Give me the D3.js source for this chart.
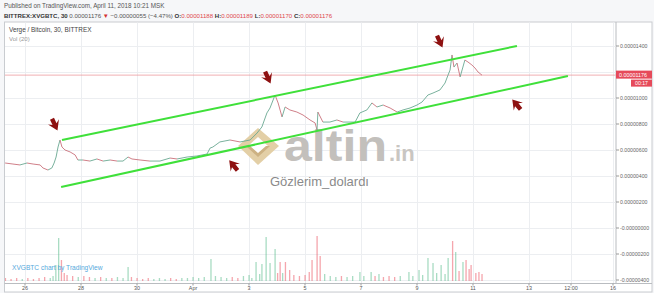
<!DOCTYPE html>
<html lang="en">
  <head>
    <meta charset="UTF-8" />
    <title>XVGBTC 30</title>
    <script src="https://d3js.org/d3.v7.min.js"></script>
    <style>
      html, body { margin: 0; padding: 0; background: #f6f7f9; }
      svg { display: block; font-family: "Liberation Sans", Arial, sans-serif; }
    </style>
  </head>
  <body>
    <div class="chart"></div>
    <script>
      // day numbers: 26 = March 26, 32 = April 1 ...  price in units of 1e-6 BTC
      const priceDays = [25.29, 25.57, 25.82, 26.07, 26.29, 26.54, 26.64, 26.82, 26.96, 27.04, 27.11, 27.18, 27.25, 27.32, 27.43, 27.61, 27.79, 27.89, 28.07, 28.32, 28.57, 28.79, 29.04, 29.29, 29.5, 29.68, 29.82, 30.11, 30.46, 30.82, 31.18, 31.43, 31.79, 32.14, 32.5, 32.61, 32.71, 32.96, 33.32, 33.68, 34.04, 34.29, 34.46, 34.64, 34.75, 34.93, 35.04, 35.18, 35.29, 35.46, 35.71, 35.93, 36.18, 36.36, 36.43, 36.46, 36.64, 36.89, 37.14, 37.36, 37.61, 37.79, 37.96, 38.21, 38.39, 38.57, 38.79, 39.04, 39.29, 39.5, 39.75, 40.0, 40.18, 40.39, 40.57, 40.82, 41.0, 41.11, 41.18, 41.25, 41.32, 41.43, 41.54, 41.64, 41.71, 41.82, 41.96, 42.07, 42.18, 42.32];
      const prices = [5.0, 4.92, 4.85, 5.0, 4.92, 4.85, 4.62, 4.46, 4.62, 5.0, 5.46, 6.23, 6.77, 6.23, 6.0, 5.85, 5.62, 5.23, 5.23, 5.15, 5.31, 5.15, 5.23, 5.15, 5.15, 5.46, 5.31, 5.23, 5.15, 5.15, 5.38, 5.31, 5.46, 5.54, 5.69, 6.15, 6.23, 6.62, 6.77, 6.62, 6.77, 7.31, 7.77, 8.85, 9.23, 10.23, 9.62, 8.54, 9.31, 9.08, 8.92, 8.69, 8.31, 8.08, 7.54, 8.92, 8.15, 8.15, 8.31, 8.15, 8.15, 8.15, 8.85, 9.08, 9.62, 9.31, 9.46, 9.23, 8.92, 9.08, 9.23, 9.46, 9.69, 10.23, 10.38, 10.62, 11.15, 11.77, 12.15, 13.31, 12.38, 12.69, 11.62, 12.38, 12.92, 12.77, 12.54, 12.31, 12.0, 11.76];
      const lastPrice = 11.76;

      const volDays = [25.3, 25.5, 25.7, 25.9, 26.1, 26.3, 26.5, 26.7, 26.9, 27.0, 27.1, 27.2, 27.3, 27.4, 27.5, 27.7, 27.9, 28.1, 28.3, 28.5, 28.7, 28.9, 29.1, 29.3, 29.5, 29.68, 29.8, 30.0, 30.2, 30.4, 30.6, 30.8, 31.0, 31.2, 31.4, 31.6, 31.8, 32.0, 32.2, 32.4, 32.64, 32.8, 33.0, 33.2, 33.4, 33.6, 33.8, 34.0, 34.1, 34.25, 34.38, 34.46, 34.61, 34.75, 34.93, 35.02, 35.11, 35.2, 35.3, 35.45, 35.6, 35.8, 36.0, 36.15, 36.25, 36.43, 36.54, 36.7, 36.9, 37.1, 37.3, 37.5, 37.7, 37.96, 38.1, 38.36, 38.5, 38.64, 38.8, 39.0, 39.2, 39.4, 39.71, 39.85, 40.07, 40.2, 40.39, 40.57, 40.7, 40.86, 41.0, 41.11, 41.27, 41.38, 41.5, 41.64, 41.75, 41.86, 41.93, 42.1, 42.21, 42.32];
      const volumes = [3, 2, 3, 2, 3, 2, 3, 4, 3, 5, 16, 43, 21, 8, 6, 5, 4, 5, 4, 3, 4, 3, 3, 4, 3, 14, 4, 3, 2, 3, 2, 3, 2, 3, 2, 3, 3, 4, 3, 4, 22, 5, 4, 3, 4, 3, 5, 6, 3, 19, 7, 17, 44, 18, 32, 8, 19, 8, 19, 11, 6, 5, 6, 9, 21, 45, 25, 7, 5, 4, 5, 4, 5, 9, 5, 9, 5, 7, 4, 5, 4, 5, 9, 5, 11, 6, 23, 18, 8, 16, 7, 23, 40, 29, 10, 19, 21, 12, 16, 8, 9, 7];

      const timeTicks = [26, 28, 30, 32, 34, 36, 38, 40, 42, 44, 45.5, 47];
      const timeLabels = ["26", "28", "30", "Apr", "3", "5", "7", "9", "11", "13", "12:00", "16"];
      const priceTicks = [14, 12, 10, 8, 6, 4, 2, 0, -2, -4];
      // the 0.00001200 label sits under the last-price tag, so it is not shown
      const priceLabels = ["0.00001400", "", "0.00001000", "0.00000800", "0.00000600", "0.00000400", "0.00000200", "-0.00000000", "-0.00000200", "-0.00000400"];

      // drawn trend channel: [day, price] start and end
      const channelUpper = [[27.32, 6.77], [43.57, 14.0]];
      const channelLower = [[27.29, 3.15], [45.39, 11.69]];
      // red arrow marks: day, price, rotation
      const arrowDays = [27.07, 34.68, 40.82, 33.43, 43.54];
      const arrowPrices = [7.92, 11.54, 14.31, 4.85, 9.54];
      const arrowAngles = [-25, -25, -25, 140, 140];

      const width = 654, height = 293;
      const pane = { left: 4.5, right: 616, top: 22, bottom: 283.5 };

      const x = d3.scaleLinear().domain([26, 42]).range([25, 473]);
      const y = d3.scaleLinear().domain([14, -4]).range([46, 280]);
      const yVol = d3.scaleLinear().domain([0, 50]).range([281, 231]);

      const svg = d3.select(".chart").append("svg")
        .attr("width", width)
        .attr("height", height);

      // header
      svg.append("text").attr("x", 4).attr("y", 8)
        .attr("font-size", 6.3).attr("fill", "#555")
        .text("Published on TradingView.com, April 11, 2018 10:21 MSK");

      const hdr = svg.append("text").attr("x", 4).attr("y", 17.5).attr("font-size", 6.1);
      const parts = [
        ["BITTREX:XVGBTC, 30 ", "#333", "bold"],
        ["0.00001176 ", "#555", "normal"],
        ["\u25BC", "#d32f2f", "normal"],
        [" \u22120.00000055 (\u22124.47%) ", "#555", "normal"],
        ["O:", "#333", "bold"], ["0.00001188 ", "#e0474c", "normal"],
        ["H:", "#333", "bold"], ["0.00001189 ", "#e0474c", "normal"],
        ["L:", "#333", "bold"], ["0.00001170 ", "#e0474c", "normal"],
        ["C:", "#333", "bold"], ["0.00001176", "#e0474c", "normal"]
      ];
      parts.forEach(p => hdr.append("tspan").attr("fill", p[1]).attr("font-weight", p[2]).text(p[0]));

      // panes
      svg.append("rect")
        .attr("x", pane.left).attr("y", pane.top)
        .attr("width", 652 - pane.left).attr("height", 292 - pane.top)
        .attr("fill", "#fff").attr("stroke", "#c9ccd0").attr("stroke-width", 1);
      svg.append("line")
        .attr("x1", pane.right).attr("x2", pane.right)
        .attr("y1", pane.top).attr("y2", pane.bottom)
        .attr("stroke", "#b9bcc0");
      svg.append("line")
        .attr("x1", pane.left).attr("x2", 652)
        .attr("y1", pane.bottom).attr("y2", pane.bottom)
        .attr("stroke", "#b9bcc0");

      svg.append("clipPath").attr("id", "clip")
        .append("rect")
        .attr("x", pane.left + 0.5).attr("y", pane.top + 0.5)
        .attr("width", pane.right - pane.left - 1).attr("height", pane.bottom - pane.top - 1);

      const g = svg.append("g").attr("clip-path", "url(#clip)");

      // grid
      g.selectAll(".vgrid").data(timeTicks).enter().append("line")
        .attr("x1", d => Math.round(x(d)) + 0.5).attr("x2", d => Math.round(x(d)) + 0.5)
        .attr("y1", pane.top).attr("y2", pane.bottom)
        .attr("stroke", "#eceef1");
      g.selectAll(".hgrid").data(priceTicks).enter().append("line")
        .attr("x1", pane.left).attr("x2", pane.right)
        .attr("y1", d => Math.round(y(d)) + 0.5).attr("y2", d => Math.round(y(d)) + 0.5)
        .attr("stroke", "#eceef1");

      // watermark
      const wm = g.append("g");
      wm.append("path")
        .attr("d", "M258,128 L279,146 L258,165 L238,146 Z")
        .attr("fill", "#e3cfa6");
      wm.append("path")
        .attr("d", "M258,137 L268,146 L258,155 L248,146 Z")
        .attr("fill", "#fff");
      wm.append("path")
        .attr("d", "M246,146 L258,157 L270,146 L266,146 L258,153 L250,146 Z")
        .attr("fill", "#cdb283");
      wm.append("text").attr("x", 284).attr("y", 161)
        .attr("font-size", 44).attr("font-weight", "bold")
        .attr("textLength", 103).attr("lengthAdjust", "spacingAndGlyphs")
        .attr("fill", "#c3c0bc").text("altin");
      wm.append("text").attr("x", 389).attr("y", 161)
        .attr("font-size", 22).attr("font-weight", "bold")
        .attr("fill", "#c9c6c2").text(".in");
      wm.append("text").attr("x", 270).attr("y", 186)
        .attr("font-size", 13).attr("fill", "#8a8a8a")
        .text("G\u00f6zlerim_dolard\u0131");

      // volume
      const priceAt = d3.bisector(d => d).left;
      const volColor = d => {
        let i = Math.min(priceAt(priceDays, d), priceDays.length - 1);
        i = Math.max(i, 1);
        return prices[i] >= prices[i - 1] ? "rgba(83,185,135,0.5)" : "rgba(235,77,92,0.5)";
      };
      g.selectAll(".vol").data(volDays).enter().append("rect")
        .attr("x", d => x(d) - 0.6)
        .attr("width", 1.3)
        .attr("y", (d, i) => yVol(volumes[i]))
        .attr("height", (d, i) => yVol(0) - yVol(volumes[i]))
        .attr("fill", d => volColor(d));

      // last price line
      g.append("line")
        .attr("x1", pane.left).attr("x2", pane.right)
        .attr("y1", y(lastPrice)).attr("y2", y(lastPrice))
        .attr("stroke", "#eb8c92").attr("stroke-width", 0.7);

      // price segments coloured by direction
      const segs = d3.range(1, prices.length);
      g.selectAll(".seg").data(segs).enter().append("line")
        .attr("x1", i => x(priceDays[i - 1])).attr("y1", i => y(prices[i - 1]))
        .attr("x2", i => x(priceDays[i])).attr("y2", i => y(prices[i]))
        .attr("stroke", i => prices[i] >= prices[i - 1] ? "#6aa892" : "#c9707a")
        .attr("stroke-width", 0.9);

      // channel
      [channelUpper, channelLower].forEach(c => {
        g.append("line")
          .attr("x1", x(c[0][0])).attr("y1", y(c[0][1]))
          .attr("x2", x(c[1][0])).attr("y2", y(c[1][1]))
          .attr("stroke", "#3fe03a").attr("stroke-width", 2);
      });

      // arrows (pointing down before rotation)
      arrowDays.forEach((d, i) => {
        g.append("path")
          .attr("d", "M-2.2,-7 L2.2,-7 L2.2,-1 L6,-3.5 L0,6 L-6,-3.5 L-2.2,-1 Z")
          .attr("transform", `translate(${x(d)},${y(arrowPrices[i])}) rotate(${arrowAngles[i]})`)
          .attr("fill", "#8e1111");
      });

      // legends
      svg.append("text").attr("x", 9).attr("y", 32)
        .attr("font-size", 6.4).attr("fill", "#444")
        .text("Verge / Bitcoin, 30, BITTREX");
      svg.append("text").attr("x", 9).attr("y", 41)
        .attr("font-size", 6).attr("fill", "#999")
        .text("Vol (20)");
      svg.append("text").attr("x", 12).attr("y", 270)
        .attr("font-size", 6.6).attr("fill", "#55a9dc")
        .text("XVGBTC chart by TradingView");

      // price axis
      const pa = svg.append("g");
      pa.selectAll("line").data(priceTicks).enter().append("line")
        .attr("x1", pane.right).attr("x2", pane.right + 3)
        .attr("y1", d => y(d)).attr("y2", d => y(d))
        .attr("stroke", "#999");
      pa.selectAll("text").data(priceTicks.filter((d, i) => priceLabels[i] !== "")).enter().append("text")
        .attr("x", 620).attr("y", d => y(d) + 2)
        .attr("font-size", 5.2).attr("fill", "#666")
        .text(d => priceLabels[priceTicks.indexOf(d)]);

      svg.append("rect").attr("x", pane.right).attr("y", y(lastPrice) - 4.5)
        .attr("width", 36).attr("height", 8).attr("fill", "#e64a5a");
      svg.append("text").attr("x", 619).attr("y", y(lastPrice) + 2)
        .attr("font-size", 5.4).attr("fill", "#fff")
        .text("0.00001176");
      svg.append("rect").attr("x", 631).attr("y", y(lastPrice) + 4.5)
        .attr("width", 21).attr("height", 7).attr("fill", "#e64a5a");
      svg.append("text").attr("x", 635).attr("y", y(lastPrice) + 10)
        .attr("font-size", 5.2).attr("fill", "#fff")
        .text("00:17");

      // time axis
      const ta = svg.append("g");
      ta.selectAll("line").data(timeTicks).enter().append("line")
        .attr("x1", d => x(d)).attr("x2", d => x(d))
        .attr("y1", pane.bottom).attr("y2", pane.bottom + 2)
        .attr("stroke", "#999");
      ta.selectAll("text").data(timeTicks).enter().append("text")
        .attr("x", d => x(d)).attr("y", 290)
        .attr("text-anchor", "middle")
        .attr("font-size", 5.4).attr("fill", "#555")
        .text((d, i) => timeLabels[i]);
    </script>
  </body>
</html>
